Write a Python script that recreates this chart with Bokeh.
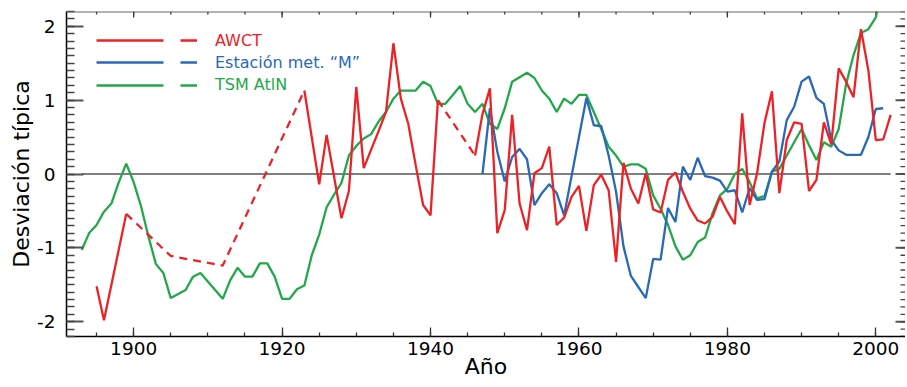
import math
from bokeh.plotting import figure
from bokeh.models import (FixedTicker, Legend, LegendItem, Range1d, Span)
from bokeh.embed import file_html
from bokeh.resources import INLINE

# ---------------- data ----------------
# AWCT (red): solid and dashed (gap-filled) parts
awct_s1_years = [1895, 1896, 1899]
awct_s1_vals = [-1.52, -1.98, -0.54]
awct_d1_years = [1899, 1905, 1912, 1923]
awct_d1_vals = [-0.54, -1.11, -1.24, 1.13]
awct_s2_years = [1923, 1925, 1926, 1928, 1929, 1930, 1931, 1932, 1933, 1934,
                 1935, 1936, 1937, 1938, 1939, 1940, 1941]
awct_s2_vals = [1.13, -0.14, 0.53, -0.60, -0.23, 1.18, 0.08, 0.33, 0.58, 0.84,
                1.77, 1.02, 0.68, 0.12, -0.42, -0.56, 1.00]
awct_d2_years = [1941, 1946]
awct_d2_vals = [1.00, 0.25]
awct_s3_years = [1946, 1947, 1948, 1949, 1950, 1951, 1952, 1953, 1954, 1955,
                 1956, 1957, 1958, 1959, 1960, 1961, 1962, 1963, 1964, 1965,
                 1966, 1967, 1968, 1969, 1970, 1971, 1972, 1973, 1974, 1975,
                 1976, 1977, 1978, 1979, 1980, 1981, 1982, 1983, 1984, 1985,
                 1986, 1987, 1988, 1989, 1990, 1991, 1992, 1993, 1994, 1995,
                 1996, 1997, 1998, 1999, 2000, 2001, 2002]
awct_s3_vals = [0.25, 0.81, 1.16, -0.80, -0.49, 0.80, -0.40, -0.76, 0.01, 0.08,
                0.37, -0.69, -0.59, -0.31, -0.16, -0.77, -0.15, -0.01, -0.22, -1.19,
                0.15, -0.20, -0.40, 0.01, -0.48, -0.52, -0.08, 0.02, -0.24, -0.47,
                -0.63, -0.67, -0.58, -0.31, -0.51, -0.68, 0.82, -0.42, 0.01, 0.69,
                1.12, -0.26, 0.46, 0.70, 0.68, -0.23, -0.08, 0.70, 0.40, 1.43,
                1.25, 1.04, 1.96, 1.40, 0.46, 0.47, 0.80]

# Estación met. "M" (blue)
est_years = [1947, 1948, 1949, 1950, 1951, 1952, 1953, 1954, 1955, 1956,
             1957, 1958, 1961, 1962, 1963, 1964, 1965, 1966, 1967, 1968,
             1969, 1970, 1971, 1972, 1973, 1974, 1975, 1976, 1977, 1978,
             1979, 1980, 1981, 1982, 1983, 1984, 1985, 1986, 1987, 1988,
             1989, 1990, 1991, 1992, 1993, 1994, 1995, 1996, 1997, 1998,
             1999, 2000, 2001]
est_vals = [0.00, 0.89, 0.30, -0.10, 0.23, 0.34, 0.20, -0.42, -0.26, -0.14,
            -0.26, -0.56, 1.03, 0.66, 0.65, 0.25, -0.24, -0.98, -1.38, -1.53,
            -1.68, -1.15, -1.16, -0.46, -0.65, 0.10, -0.08, 0.22, -0.03, -0.05,
            -0.09, -0.24, -0.22, -0.52, -0.19, -0.35, -0.34, 0.03, 0.17, 0.73,
            0.91, 1.25, 1.32, 1.03, 0.95, 0.46, 0.32, 0.26, 0.26, 0.26,
            0.50, 0.88, 0.89]

# TSM AtlN (green)
tsm_years = [1893, 1894, 1895, 1896, 1897, 1898, 1899, 1900, 1901, 1902,
             1903, 1904, 1905, 1907, 1908, 1909, 1912, 1913, 1914, 1915,
             1916, 1917, 1918, 1919, 1920, 1921, 1922, 1923, 1924, 1925,
             1926, 1927, 1928, 1929, 1930, 1931, 1932, 1933, 1934, 1935,
             1936, 1937, 1938, 1939, 1940, 1941, 1942, 1943, 1944, 1945,
             1946, 1947, 1948, 1949, 1950, 1951, 1952, 1953, 1954, 1955,
             1956, 1957, 1958, 1959, 1960, 1961, 1962, 1963, 1964, 1965,
             1966, 1967, 1968, 1969, 1970, 1971, 1972, 1973, 1974, 1975,
             1976, 1977, 1978, 1979, 1980, 1981, 1982, 1983, 1984, 1985,
             1986, 1987, 1988, 1989, 1990, 1991, 1992, 1993, 1994, 1995,
             1996, 1997, 1998, 1999, 2000, 2001]
tsm_vals = [-1.03, -0.80, -0.69, -0.51, -0.40, -0.11, 0.14, -0.11, -0.44, -0.85,
            -1.22, -1.34, -1.68, -1.57, -1.39, -1.34, -1.69, -1.44, -1.27, -1.39,
            -1.39, -1.21, -1.21, -1.39, -1.69, -1.69, -1.56, -1.51, -1.10, -0.82,
            -0.45, -0.28, -0.12, 0.25, 0.38, 0.48, 0.54, 0.71, 0.84, 1.02,
            1.13, 1.13, 1.13, 1.25, 1.19, 0.95, 0.95, 1.07, 1.19, 0.95,
            0.84, 0.95, 0.68, 0.61, 0.89, 1.25, 1.31, 1.37, 1.30, 1.13,
            1.02, 0.84, 1.02, 0.95, 1.07, 1.07, 0.84, 0.61, 0.37, 0.25,
            0.10, 0.13, 0.13, 0.07, -0.29, -0.47, -0.69, -0.98, -1.16, -1.10,
            -0.92, -0.86, -0.53, -0.29, -0.20, 0.00, 0.07, -0.11, -0.33, -0.30,
            0.03, 0.07, 0.25, 0.43, 0.61, 0.39, 0.19, 0.43, 0.37, 0.61,
            1.22, 1.61, 1.91, 1.96, 2.12, 2.60]

zero_years = [1893, 2002]
zero_vals = [0, 0]

x_major = [1900, 1920, 1940, 1960, 1980, 2000]
x_minor = list(range(1895, 2005, 5))
y_major = [-2, -1, 0, 1, 2]
y_tick_labels = ["-2", "-1", "0", "1", "2"]
y_minor = [round(-2.2 + 0.1 * i, 1) for i in range(45)]

series_labels = ["AWCT", "Estación met. \u201cM\u201d", "TSM AtlN"]
x_title = "Año"
y_title = "Desviación típica"

RED, BLUE, GREEN = "#EC2227", "#2A69B5", "#22A84A"
FONT = "DejaVu Sans"
X0, X1 = 1890.95, 2004.0
Y0, Y1 = -2.2, 2.2

# ---------------- figure ----------------
p = figure(width=905, height=385, output_backend="svg", toolbar_location=None,
           x_range=Range1d(X0, X1), y_range=Range1d(Y0, Y1),
           min_border_left=66, min_border_right=0, min_border_top=11,
           min_border_bottom=49)
p.outline_line_color = None
p.xgrid.visible = False
p.ygrid.visible = False
p.background_fill_color = "white"

xa = p.xaxis[0]
xa.ticker = FixedTicker(ticks=x_major, minor_ticks=x_minor)
xa.major_tick_in, xa.major_tick_out = 9, 0
xa.minor_tick_in, xa.minor_tick_out = 4, 0
xa.axis_line_color = "black"
xa.axis_line_width = 1.5
xa.major_tick_line_color = "#333333"
xa.minor_tick_line_color = "#333333"
xa.major_tick_line_width = 1.3
xa.minor_tick_line_width = 1.3
xa.major_label_text_font = FONT
xa.major_label_text_font_size = "18.5px"
xa.major_label_text_color = "black"
xa.major_label_standoff = 5
xa.axis_label = x_title
xa.axis_label_text_font = FONT
xa.axis_label_text_font_size = "22px"
xa.axis_label_text_font_style = "normal"
xa.axis_label_text_color = "black"
xa.axis_label_standoff = -4

ya = p.yaxis[0]
ya.ticker = FixedTicker(ticks=y_major, minor_ticks=y_minor)
ya.major_label_overrides = dict(zip(y_major, y_tick_labels))
ya.major_tick_in, ya.major_tick_out = 17, 0
ya.minor_tick_in, ya.minor_tick_out = 8, 0
ya.axis_line_color = "black"
ya.axis_line_width = 1.5
ya.major_tick_line_color = "#555555"
ya.minor_tick_line_color = "#444444"
ya.major_tick_line_width = 2
ya.minor_tick_line_width = 1.3
ya.major_label_text_font = FONT
ya.major_label_text_font_size = "18.5px"
ya.major_label_text_color = "black"
ya.major_label_standoff = 11
ya.axis_label = y_title
ya.axis_label_text_font = FONT
ya.axis_label_text_font_size = "22px"
ya.axis_label_text_font_style = "normal"
ya.axis_label_text_color = "black"
ya.axis_label_standoff = 0

# top frame line and inward ticks on top / right edges
p.add_layout(Span(location=Y1, dimension="width", line_color="#666666", line_width=2))
p.ray(x=x_major, y=[Y1] * len(x_major), length=6, angle=-math.pi / 2,
      length_units="screen", line_color="#333333", line_width=1.3)
p.ray(x=x_minor, y=[Y1] * len(x_minor), length=3, angle=-math.pi / 2,
      length_units="screen", line_color="#333333", line_width=1.3)
p.ray(x=[X1] * len(y_major), y=y_major, length=10, angle=math.pi,
      length_units="screen", line_color="#555555", line_width=2)
p.ray(x=[X1] * len(y_minor), y=y_minor, length=5, angle=math.pi,
      length_units="screen", line_color="#444444", line_width=1.3)

# zero line
p.line(zero_years, zero_vals, line_color="#555555", line_width=1.5)

LW = 2.3
DASH = "8 6"
p.line(tsm_years, tsm_vals, line_color=GREEN, line_width=LW)
p.line(est_years, est_vals, line_color=BLUE, line_width=LW)
p.line(awct_s1_years, awct_s1_vals, line_color=RED, line_width=LW)
p.line(awct_s2_years, awct_s2_vals, line_color=RED, line_width=LW)
p.line(awct_s3_years, awct_s3_vals, line_color=RED, line_width=LW)
p.line(awct_d1_years, awct_d1_vals, line_color=RED, line_width=LW, line_dash=DASH)
p.line(awct_d2_years, awct_d2_vals, line_color=RED, line_width=LW, line_dash=DASH)

# legend: one legend per series so labels are coloured like the lines;
# the legend swatch is a solid stroke followed by a short dash
legend_y = [285.7, 263.7, 241.3]
nan = float("nan")
for lab, col, ly in zip(series_labels, [RED, BLUE, GREEN], legend_y):
    r = p.line([nan], [nan], line_color=col, line_width=LW, line_dash="67 17 17 200")
    lg = Legend(items=[LegendItem(label=lab, renderers=[r])], location=(30, ly),
                orientation="vertical", padding=0, margin=0, spacing=0,
                glyph_width=101, glyph_height=20, label_standoff=18,
                label_height=20, label_text_font=FONT, label_text_font_size="16px",
                label_text_color=col, label_text_baseline="middle",
                border_line_alpha=0, background_fill_alpha=0)
    p.add_layout(lg, "center")

open("out.html", "w").write(file_html(p, INLINE))
